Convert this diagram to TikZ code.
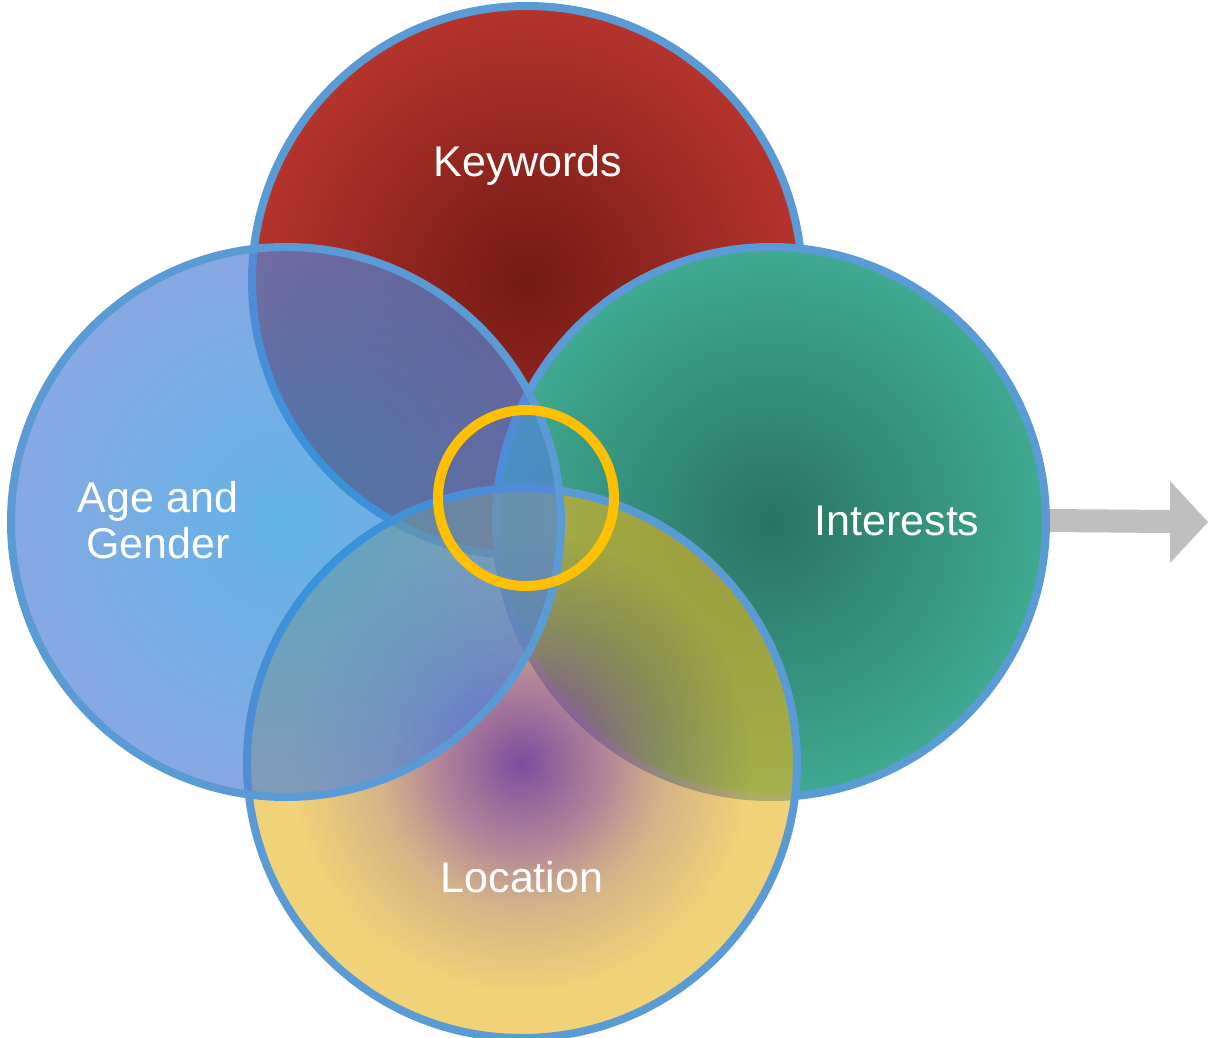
\documentclass[tikz,border=0pt]{standalone}
\usepackage{fontspec}
\setmainfont{Liberation Sans}
\usetikzlibrary{fadings}
\definecolor{kin}{RGB}{115,26,21}
\definecolor{kout}{RGB}{181,52,44}
\definecolor{iin}{RGB}{40,116,98}
\definecolor{iout}{RGB}{64,170,145}
\definecolor{ain}{RGB}{31,147,220}
\definecolor{aout}{RGB}{85,132,215}
\definecolor{lzero}{RGB}{115,68,155}
\definecolor{lone}{RGB}{150,90,120}
\definecolor{ltwo}{RGB}{190,135,50}
\definecolor{lthree}{RGB}{230,180,30}
\definecolor{rim}{RGB}{91,155,213}
\definecolor{ringcol}{RGB}{255,192,0}
\definecolor{arrowgray}{RGB}{191,191,191}
\pgfdeclareradialshading{locshade}{\pgfpointorigin}{color(0bp)=(lzero); color(7.5bp)=(lone); color(14bp)=(ltwo); color(21bp)=(lthree); color(50bp)=(lthree)}
\pgfdeclareradialshading{locfadeshade}{\pgfpointorigin}{color(0bp)=(black!5); color(7.5bp)=(black!25); color(13bp)=(black!40); color(50bp)=(black!40)}
\pgfdeclarefading{locfade}{\pgfuseshading{locfadeshade}}
\tikzset{
  rimline/.style={draw=rim, line width=8pt},
  lbl/.style={text=white, font=\fontsize{43}{48}\selectfont, anchor=base, inner sep=0pt}
}
\begin{document}
\begin{tikzpicture}[x=1pt,y=-1pt]
\useasboundingbox (0,0) rectangle (1210,1038);
\coordinate (kc) at (527,281);
\coordinate (ic) at (771,522);
\coordinate (ac) at (286,522);
\coordinate (lc) at (522,763);
\coordinate (yc) at (526,498);
\coordinate (arrstart) at (1048,520);
% arrow
\fill[arrowgray] ([yshift=11pt]arrstart) -- (1170,510) -- (1170,481) -- (1208,522) -- (1170,563) -- (1170,533) -- ([yshift=-12pt]arrstart) -- cycle;
% Keywords
\shade[inner color=kin, outer color=kout] (kc) circle[radius=275];
\draw[rimline] (kc) circle[radius=275];
% Interests
\shade[inner color=iin, outer color=iout] (ic) circle[radius=275];
\draw[rimline] (ic) circle[radius=275];
% Location
\shade[shading=locshade, path fading=locfade] (lc) circle[radius=275];
\draw[rimline] (lc) circle[radius=275];
% Age and Gender
\shade[inner color=ain, outer color=aout, fill opacity=0.7] (ac) circle[radius=275];
\draw[rimline] (ac) circle[radius=275];
% centre ring
\draw[draw=ringcol, line width=10pt] (yc) circle[radius=88];
% labels
\node[lbl] (kw) at (528,176) {Keywords};
\node[lbl] (ag1) at (158,512) {Age and};
\node[lbl] (ag2) at (158,558) {Gender};
\node[lbl] (in) at (897,535) {Interests};
\node[lbl] (lo) at (522,892) {Location};
\end{tikzpicture}
\end{document}
